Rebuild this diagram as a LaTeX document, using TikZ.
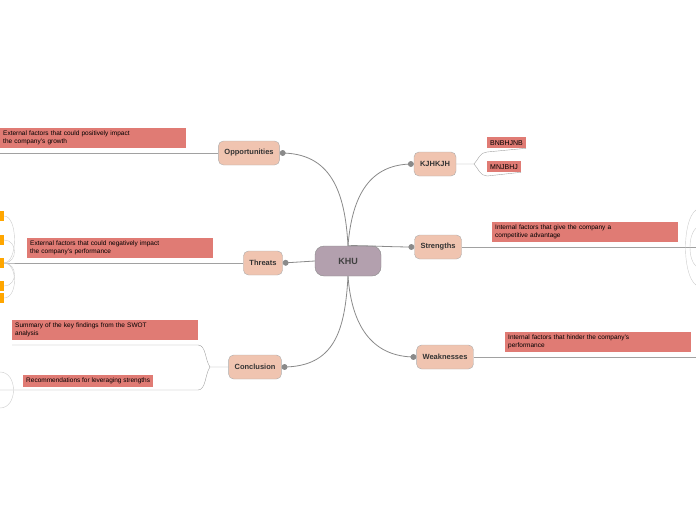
\documentclass[tikz,border=0pt]{standalone}
\usepackage{fontspec}
\setmainfont{Liberation Sans}
\usetikzlibrary{positioning,calc,arrows}
\definecolor{hub}{HTML}{B3A0AE}
\definecolor{topic}{HTML}{F0C4B0}
\definecolor{note}{HTML}{E07B74}
\definecolor{wire}{HTML}{8A8A8A}

\begin{document}
\begin{tikzpicture}[x=1pt,y=-1pt,
  central/.style={draw=wire,fill=hub,rounded corners=9pt,minimum width=66pt,minimum height=30pt,font=\bfseries\fontsize{9}{10}\selectfont,text=black!75},
  topic node/.style={draw=wire!70,fill=topic,rounded corners=5pt,minimum height=24pt,inner xsep=6pt,font=\bfseries\fontsize{7.5}{9}\selectfont,text=black!80},
  note node/.style={fill=note,anchor=north west,align=left,inner sep=3pt,font=\fontsize{6.5}{7.5}\selectfont,text width=#1},
  tag node/.style={fill=note,anchor=north west,inner sep=3pt,font=\fontsize{7}{8}\selectfont},
  link/.style={draw=wire,thick,-*},
  rule/.style={draw=wire!80,thin}]
  \useasboundingbox (0,0) rectangle (696,520);

  \node[central] (khu) at (348,261) {KHU};
  \node[topic node] (opp) at (249,153) {Opportunities};
  \node[topic node] (thr) at (263,263) {Threats};
  \node[topic node] (con) at (255,367) {Conclusion};
  \node[topic node] (kj) at (435,164) {KJHKJH};
  \node[topic node] (str) at (438,247) {Strengths};
  \node[topic node] (wea) at (445,357) {Weaknesses};

  % hub connectors
  \draw[link] (khu.north) .. controls (345,190) and (330,153) .. (opp.east);
  \draw[link] (khu.west) -- (thr.east);
  \draw[link] (khu.south) .. controls (345,330) and (335,367) .. (con.east);
  \draw[link] (khu.north) .. controls (352,195) and (370,164) .. (kj.west);
  \draw[link] (khu.north) .. controls (355,245) and (390,247) .. (str.west);
  \draw[link] (khu.south) .. controls (352,330) and (375,357) .. (wea.west);

  % notes
  \node[note node=180pt] (oppn) at (0,128) {External factors that could positively impact\\the company's growth};
  \coordinate (oppe) at (0,153);
  \draw[rule] (opp.west) -- (oppe);
  \node[note node=180pt] (thrn) at (27,238) {External factors that could negatively impact\\the company's performance};
  \coordinate (thre) at (0,263);
  \draw[rule] (thr.west) -- (thre);
  \node[note node=180pt] (sumn) at (12,320) {Summary of the key findings from the SWOT\\analysis};
  \node[tag node,font=\fontsize{6.5}{7.5}\selectfont] (recn) at (23,375) {Recommendations for leveraging strengths};
  \coordinate (cj) at (210,367);
  \draw[rule] (con.west) -- (cj) .. controls (205,360) and (206,345) .. (198,345) -- (12,345);
  \draw[rule] (cj) .. controls (205,374) and (206,390) .. (198,390) -- (0,390);
  \draw[rule,gray!40] (0,372) .. controls (18,372) and (18,408) .. (0,408);
  \node[note node=180pt] (strn) at (492,222) {Internal factors that give the company a\\competitive advantage};
  \coordinate (stre) at (696,247);
  \draw[rule] (str.east) -- (stre);
  \node[note node=180pt] (wean) at (505,332) {Internal factors that hinder the company's\\performance};
  \coordinate (weae) at (696,357);
  \draw[rule] (wea.east) -- (weae);

  % KJHKJH children
  \node[tag node] (b1) at (487,137) {BNBHJNB};
  \node[tag node] (b2) at (487,161) {MNJBHJ};
  \coordinate (kjj) at (474,164);
  \draw[rule] (kj.east) -- (kjj) .. controls (478,160) and (480,152) .. (487,152) -- (b1.south east);
  \draw[rule] (kjj) .. controls (478,168) and (480,176) .. (487,176) -- (b2.south east);

  % cut-off branches at the edges
  \foreach \y in {216,240,263,286} {
    \fill[orange!70!yellow] (0,\y-5) rectangle (4,\y+5);
    \draw[rule,gray!40] (4,263) .. controls (18,263) and (18,\y) .. (4,\y);
  }
  \fill[orange!70!yellow] (0,293) rectangle (4,303);
  \draw[rule,gray!40] (4,263) .. controls (18,263) and (18,298) .. (4,298);
  \draw[rule,gray!40] (696,210) .. controls (682,220) and (682,275) .. (696,285);
  \draw[rule,gray!40] (696,228) .. controls (688,235) and (688,260) .. (696,266);
\end{tikzpicture}
\end{document}
